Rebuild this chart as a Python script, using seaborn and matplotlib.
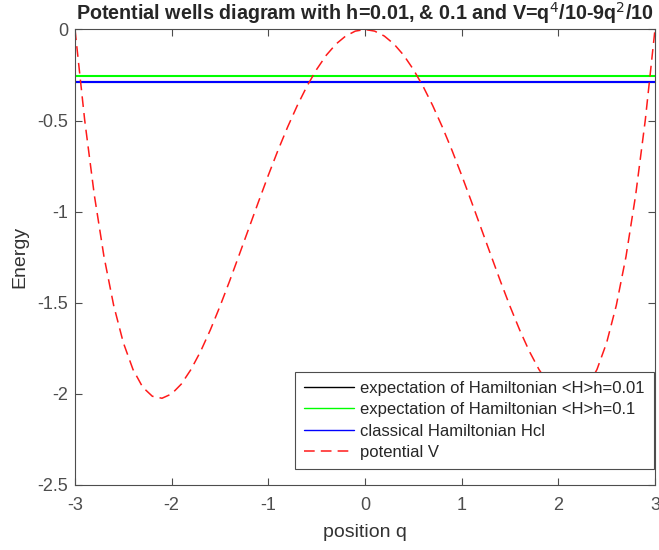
import numpy as np
import pandas as pd
import matplotlib
matplotlib.use('Agg')
import matplotlib.pyplot as plt
import seaborn as sns

# potential values, q from -3 to 3 in steps of 0.1
v_half = [0.000, -0.009, -0.036, -0.080, -0.141, -0.219, -0.311, -0.417, -0.535, -0.663,
          -0.800, -0.943, -1.089, -1.235, -1.380, -1.519, -1.649, -1.766, -1.866, -1.946,
          -2.000, -2.024, -2.013, -1.963, -1.866, -1.719, -1.514, -1.247, -0.909, -0.496,
          0.000]
v_pot = v_half[::-1] + v_half[1:]
q_pos = np.round(np.arange(-30, 31) / 10, 1)

# horizontal energy levels
h_exp_001 = -0.286
h_exp_01 = -0.255
h_classical = -0.286

xticks = [-3, -2, -1, 0, 1, 2, 3]
xtick_labels = ['-3', '-2', '-1', '0', '1', '2', '3']
yticks = [0, -0.5, -1, -1.5, -2, -2.5]
ytick_labels = ['0', '-0.5', '-1', '-1.5', '-2', '-2.5']

sns.set_style('ticks')
plt.rcParams['font.family'] = ['Liberation Sans', 'DejaVu Sans']
plt.rcParams['axes.unicode_minus'] = False

fig = plt.figure(figsize=(6.59, 5.5), dpi=100)
ax = fig.add_axes([0.1138, 0.1182, 0.8801, 0.8282])

edge = [-3, 3]
df_levels = pd.DataFrame({'q': edge * 3,
                          'E': [h_exp_001] * 2 + [h_exp_01] * 2 + [h_classical] * 2,
                          'name': ['expectation of Hamiltonian <H>h=0.01'] * 2
                                  + ['expectation of Hamiltonian <H>h=0.1'] * 2
                                  + ['classical Hamiltonian Hcl'] * 2})
palette = {'expectation of Hamiltonian <H>h=0.01': 'black',
           'expectation of Hamiltonian <H>h=0.1': '#00ff00',
           'classical Hamiltonian Hcl': '#0000ff'}
sns.lineplot(data=df_levels, x='q', y='E', hue='name', palette=palette,
             linewidth=1.5, ax=ax, legend=False)
for name, col in palette.items():
    ax.plot([], [], color=col, linewidth=1.0, label=name)

sns.lineplot(x=q_pos, y=v_pot, color='#ff1a1a', linewidth=1.1, ax=ax)
ax.lines[-1].set_dashes([7, 4])
ax.plot([], [], color='#ff1a1a', linewidth=1.1, dashes=[7, 4], label='potential V')

ax.set_xlim(-3, 3)
ax.set_ylim(-2.5, 0)
ax.set_xticks(xticks)
ax.set_xticklabels(xtick_labels)
ax.set_yticks(yticks)
ax.set_yticklabels(ytick_labels)
ax.tick_params(direction='in', top=True, right=True, length=5, labelsize=13,
               colors='#4d4d4d')
ax.tick_params(axis='x', pad=9)
ax.tick_params(axis='y', pad=5)
for s in ax.spines.values():
    s.set_color('#4d4d4d')
    s.set_linewidth(0.8)

ax.set_xlabel('position q', fontsize=14, color='#333333', labelpad=7)
ax.set_ylabel('Energy', fontsize=14, color='#333333', labelpad=6)
ax.set_title('Potential wells diagram with h=0.01, & 0.1 and V=q$^4$/10-9q$^2$/10',
             fontsize=14.2, fontweight='bold', pad=7)

leg = ax.legend(loc='lower right', bbox_to_anchor=(0.998, 0.035), borderaxespad=0,
                fancybox=False, framealpha=1, edgecolor='#4d4d4d', fontsize=12,
                handlelength=3.0, handletextpad=0.35, labelspacing=0.38,
                borderpad=0.55)
leg.get_frame().set_linewidth(0.8)

fig.savefig('out.png', dpi=100)
